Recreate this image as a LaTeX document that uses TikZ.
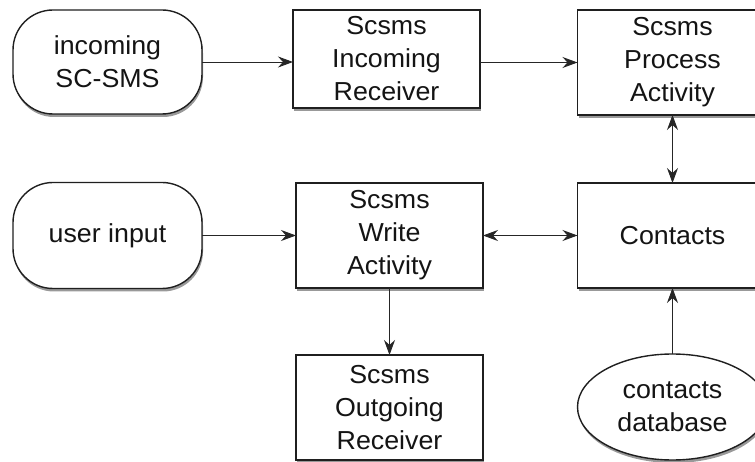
\documentclass[tikz,border=0pt]{standalone}
\usepackage{fontspec}
\setmainfont{Liberation Sans}[FakeStretch=1.03]
\usetikzlibrary{arrows.meta,shapes.geometric,shadows}

\tikzset{
  base/.style={draw=black!88, line width=1.4pt, fill=white, text=black!92,
    inner sep=0pt, outer sep=0pt, align=center,
    font=\fontsize{26}{33}\selectfont,
    drop shadow={shadow xshift=1pt, shadow yshift=-3pt, fill=black, opacity=0.4}},
  boxnode/.style={base, rectangle, minimum width=187pt, minimum height=105pt},
  termnode/.style={base, rectangle, rounded corners=40pt, minimum width=189pt, minimum height=104pt},
  storenode/.style={base, ellipse, minimum width=190pt, minimum height=106pt},
  arr/.style={draw=black!85, line width=0.9pt, -{Stealth[length=15pt,width=11pt,inset=5pt]}},
  darr/.style={draw=black!85, line width=0.9pt,
    {Stealth[length=15pt,width=11pt,inset=5pt]}-{Stealth[length=15pt,width=11pt,inset=5pt]}}
}

\begin{document}
\begin{tikzpicture}[x=1pt,y=-1pt]
  \useasboundingbox (0,0) rectangle (755,462);
  \clip (0,0) rectangle (755,462);

  % top row
  \node[termnode] (inc)  at (107.5,62)   {incoming\\SC-SMS};
  \node[boxnode, minimum height=98pt] (recv) at (386.5,59) {Scsms\\Incoming\\Receiver};
  \node[boxnode, minimum width=190pt] (proc) at (672.5,62.5) {Scsms\\Process\\Activity};

  % middle row
  \node[termnode, minimum height=106pt] (user) at (107.5,235.5) {user input};
  \node[boxnode] (write) at (389.5,235.5) {Scsms\\Write\\Activity};
  \node[boxnode, minimum width=190pt] (cont) at (672.5,235.5) {Contacts};

  % bottom row
  \node[boxnode] (out) at (389.5,407.5) {Scsms\\Outgoing\\Receiver};
  \node[storenode] (db) at (672.5,407) {contacts\\database};

  % connectors
  \draw[arr]  (inc.east) -- (inc.east -| recv.west);
  \draw[arr]  (proc.west -| recv.east) -- (proc.west);
  \draw[darr] (proc.south) -- (cont.north);
  \draw[arr]  (user.east) -- (user.east -| write.west);
  \draw[darr] (write.east) -- (cont.west);
  \draw[arr]  (write.south) -- (out.north);
  \draw[arr]  (db.north) -- (cont.south);
\end{tikzpicture}
\end{document}
